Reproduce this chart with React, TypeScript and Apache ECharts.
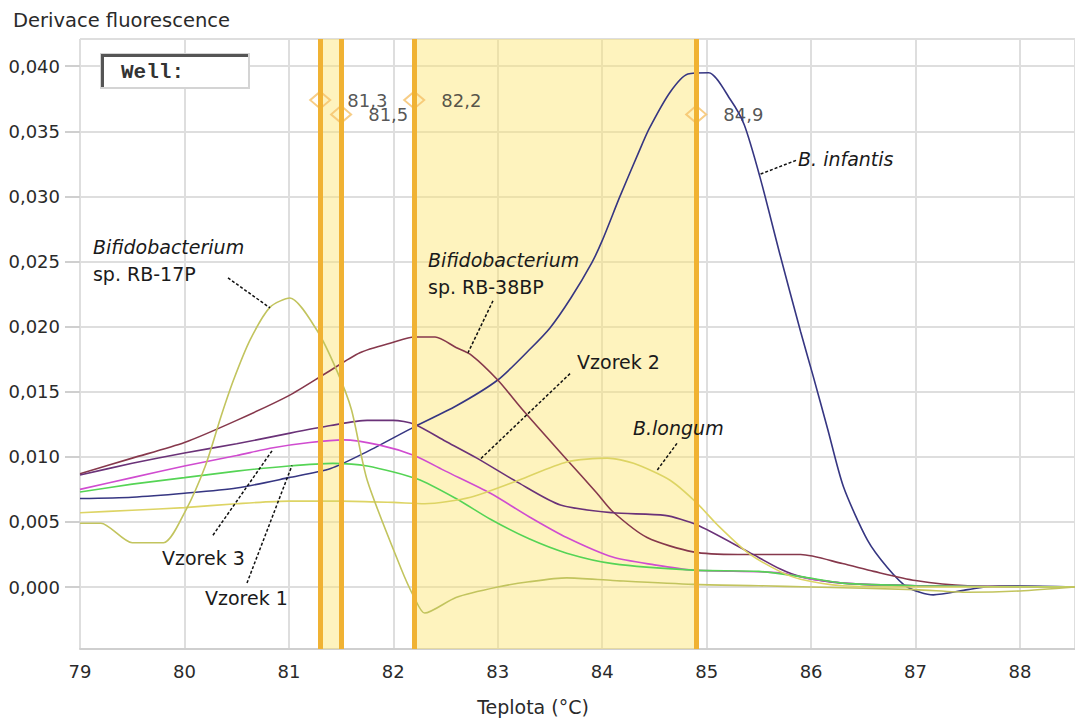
import React, { useEffect, useRef } from "react";
import * as echarts from "echarts";

// ---------- data ----------
const xTickMin = 79;
const xMaxValue = 88.527;
const yMinValue = -0.00476;
const yMaxValue = 0.04209;

const bInfantis: [number, number][] = [
  [79.0, 0.0068], [79.5, 0.0069], [80.0, 0.0072], [80.5, 0.0076], [81.0, 0.0084],
  [81.4, 0.0091], [81.75, 0.0104], [82.2, 0.0123], [82.6, 0.0139], [83.0, 0.0159],
  [83.3, 0.0182], [83.5, 0.0199], [83.7, 0.0222], [83.9, 0.0249], [84.0, 0.0266],
  [84.17, 0.0300], [84.35, 0.0334], [84.45, 0.0352], [84.65, 0.0380], [84.82, 0.0394],
  [85.02, 0.0395], [85.23, 0.0374], [85.36, 0.0355], [85.51, 0.0315], [85.7, 0.0256],
  [85.9, 0.0196], [86.02, 0.0162], [86.16, 0.0121], [86.31, 0.0077], [86.54, 0.0036],
  [86.73, 0.0015], [86.92, 0.0000], [87.17, -0.0006], [87.5, -0.0002], [87.8, 0.0001],
  [88.527, 0.0],
];

const rb38bp: [number, number][] = [
  [79.0, 0.0087], [79.5, 0.0099], [80.0, 0.0111], [80.5, 0.0128], [81.0, 0.0147],
  [81.35, 0.0164], [81.68, 0.0180], [82.0, 0.0188], [82.2, 0.0192], [82.4, 0.0192],
  [82.6, 0.0184], [82.75, 0.0178], [83.0, 0.0159], [83.24, 0.0136], [83.66, 0.0098],
  [83.95, 0.0072], [84.1, 0.0058], [84.43, 0.0038], [84.87, 0.0027], [85.3, 0.0025],
  [85.9, 0.0025], [86.3, 0.0018], [86.6, 0.0012], [87.0, 0.0005], [87.5, 0.0001],
  [88.527, 0.0],
];

const vzorek2: [number, number][] = [
  [79.0, 0.0086], [79.5, 0.0095], [80.0, 0.0103], [80.5, 0.0110], [81.0, 0.0118],
  [81.4, 0.0124], [81.75, 0.0128], [82.0, 0.0128], [82.2, 0.0125], [82.5, 0.0112],
  [82.8, 0.0099], [83.2, 0.0080], [83.6, 0.0063], [84.1, 0.0057], [84.6, 0.0055],
  [84.9, 0.0048], [85.4, 0.0027], [85.7, 0.0014], [85.9, 0.0008], [86.3, 0.0003],
  [87.0, 0.0001], [88.527, 0.0],
];

const vzorek3: [number, number][] = [
  [79.0, 0.0075], [79.5, 0.0084], [80.0, 0.0093], [80.5, 0.0101], [80.85, 0.0107],
  [81.2, 0.0111], [81.52, 0.0113], [81.87, 0.0109], [82.2, 0.0101], [82.5, 0.0089],
  [82.93, 0.0072], [83.3, 0.0054], [83.66, 0.0038], [84.1, 0.0023], [84.5, 0.0017],
  [84.87, 0.0013], [85.7, 0.0011], [86.0, 0.0006], [86.5, 0.0002], [87.0, 0.0001],
  [88.527, 0.0],
];

const vzorek1: [number, number][] = [
  [79.0, 0.0073], [79.5, 0.0079], [80.0, 0.0084], [80.5, 0.0089], [81.0, 0.0093],
  [81.42, 0.0095], [81.75, 0.0093], [82.23, 0.0083], [82.6, 0.0068], [82.93, 0.0052],
  [83.3, 0.0037], [83.66, 0.0026], [84.1, 0.0018], [84.87, 0.0013], [85.5, 0.0012],
  [85.9, 0.0008], [86.3, 0.0003], [87.0, 0.0001], [88.527, 0.0],
];

const bLongum: [number, number][] = [
  [79.0, 0.0057], [79.5, 0.0059], [80.0, 0.0061], [80.5, 0.0064], [81.0, 0.0066],
  [81.5, 0.0066], [82.0, 0.0065], [82.3, 0.0064], [82.74, 0.0069], [83.2, 0.0082],
  [83.66, 0.0096], [84.05, 0.0099], [84.3, 0.0095], [84.65, 0.0082], [84.9, 0.0065],
  [85.1, 0.0048], [85.4, 0.0026], [85.7, 0.0012], [85.9, 0.0006], [86.3, 0.0001],
  [87.0, 0.0], [88.527, 0.0],
];

const rb17p: [number, number][] = [
  [79.0, 0.0049], [79.2, 0.0049], [79.5, 0.0034], [79.8, 0.0034], [80.0, 0.0057],
  [80.2, 0.0093], [80.35, 0.0131], [80.47, 0.0159], [80.63, 0.0190], [80.82, 0.0215],
  [81.01, 0.0222], [81.27, 0.0197], [81.46, 0.0166], [81.6, 0.0136], [81.75, 0.0082],
  [82.07, 0.0015], [82.2, -0.0008], [82.3, -0.0020], [82.6, -0.0008], [83.0, 0.0000],
  [83.3, 0.0004], [83.66, 0.0007], [84.1, 0.0005], [84.87, 0.0002], [85.5, 0.0001],
  [86.0, 0.0], [87.0, -0.0002], [87.5, -0.0004], [88.0, -0.0003], [88.527, 0.0],
];

const peakTemps = [81.3, 81.5, 82.2, 84.9];
const peakMarkerY = [0.0374, 0.0363, 0.0374, 0.0363];
const shadedBands: [number, number][] = [[81.3, 81.5], [82.2, 84.9]];

// annotation texts: [text, italic, x, y] (data coordinates of text's left-middle)
const annotationTexts: [string, boolean, number, number][] = [
  ["Bifidobacterium", true, 79.124, 0.02611],
  ["sp. RB-17P", false, 79.124, 0.02404],
  ["Bifidobacterium", true, 82.332, 0.02511],
  ["sp. RB-38BP", false, 82.332, 0.02304],
  ["Vzorek 2", false, 83.759, 0.0173],
  ["B.longum", true, 84.295, 0.01225],
  ["B. infantis", true, 85.875, 0.03285],
  ["Vzorek 3", false, 79.785, 0.00222],
  ["Vzorek 1", false, 80.197, -0.00084],
];

// leader lines: [x1, y1, x2, y2] in data coordinates
const leaderLines: [number, number, number, number][] = [
  [80.417, 0.02374, 80.819, 0.02144],
  [82.954, 0.02198, 82.715, 0.01799],
  [83.692, 0.01639, 82.83, 0.0098],
  [84.716, 0.01103, 84.525, 0.00896],
  [85.856, 0.03277, 85.511, 0.0317],
  [80.273, 0.00398, 80.848, 0.01057],
  [80.599, 0.00031, 81.03, 0.00934],
];

const curveNames = ["B. infantis", "RB-38BP", "Vzorek 2", "Vzorek 3", "Vzorek 1", "B.longum", "RB-17P"];
const curveData = [bInfantis, rb38bp, vzorek2, vzorek3, vzorek1, bLongum, rb17p];
const curveColors = ["#363682", "#86384c", "#6a3278", "#d04cd0", "#55d455", "#ddd464", "#c2c45e"];

const xAxisTitle = "Teplota (°C)";
const yAxisTitle = "Derivace fluorescence";

const FONT = '"DejaVu Sans", Verdana, sans-serif';

export default function App() {
  const ref = useRef<HTMLDivElement>(null);

  useEffect(() => {
    document.body.style.margin = "0";
    if (!ref.current) return;
    const chart = echarts.init(ref.current, null, { renderer: "svg" });

    const fmtY = (v: number) => v.toFixed(3).replace(".", ",");

    const option: any = {
      animation: false,
      backgroundColor: "#ffffff",
      grid: { left: 80, right: 0, top: 39, bottom: 71, containLabel: false },
      xAxis: {
        type: "value",
        min: xTickMin,
        max: xMaxValue,
        interval: 1,
        axisLine: { show: true, onZero: false, lineStyle: { color: "#cfcfcf", width: 2 } },
        axisTick: { show: false },
        axisLabel: {
          fontFamily: FONT, fontSize: 18, color: "#2a2a2a", margin: 13,
          showMaxLabel: false,
          formatter: (v: number) => String(Math.round(v)),
        },
        splitLine: { show: true, lineStyle: { color: "#dedede", width: 2 } },
      },
      yAxis: {
        type: "value",
        min: yMinValue,
        max: yMaxValue,
        splitNumber: 9,
        minInterval: 0.005,
        maxInterval: 0.005,
        axisLine: { show: false },
        axisTick: { show: true, length: 15, lineStyle: { color: "#cfcfcf", width: 2 } },
        axisLabel: {
          fontFamily: FONT, fontSize: 18, color: "#2a2a2a", margin: 20,
          showMinLabel: false, showMaxLabel: false,
          formatter: (v: number) => fmtY(v),
        },
        splitLine: { show: true, lineStyle: { color: "#dedede", width: 2 } },
      },
      series: [
        {
          name: "peaks",
          type: "scatter",
          z: 1,
          data: peakTemps.map((t, i) => [t, peakMarkerY[i]]),
          symbol: "diamond",
          symbolSize: [20, 17],
          itemStyle: { color: "rgba(255,255,255,0)", borderColor: "#f5c068", borderWidth: 2 },
          label: {
            show: true, position: "right", distance: 16,
            fontFamily: FONT, fontSize: 18, color: "#2a2a2a",
            formatter: (p: any) => p.value[0].toFixed(1).replace(".", ","),
          },
          silent: true,
          markArea: {
            silent: true,
            itemStyle: { color: "rgba(252, 228, 110, 0.45)" },
            data: shadedBands.map(([a, b]) => [{ xAxis: a }, { xAxis: b }]),
          },
          markLine: {
            silent: true,
            symbol: "none",
            label: { show: false },
            lineStyle: { color: "#f0b233", width: 5, type: "solid" },
            data: peakTemps.map((t) => ({ xAxis: t })),
          },
        },
        ...curveData.map((d, i) => ({
          name: curveNames[i],
          type: "line",
          z: 3,
          data: d,
          showSymbol: false,
          smooth: 0.25,
          silent: true,
          lineStyle: { color: curveColors[i], width: 1.6 },
        })),
      ],
    };

    chart.setOption(option);

    const graphics: any[] = [];
    graphics.push({
      type: "text",
      x: 13,
      y: 20,
      style: { text: yAxisTitle, fontFamily: FONT, fontSize: 19.5, fill: "#2a2a2a", verticalAlign: "middle" },
    });
    graphics.push({
      type: "text",
      x: 533,
      y: 707,
      style: { text: xAxisTitle, fontFamily: FONT, fontSize: 19, fill: "#2a2a2a", align: "center", verticalAlign: "middle" },
    });
    // Well box
    graphics.push({
      type: "group",
      left: 100,
      top: 53,
      children: [
        { type: "rect", shape: { x: 0, y: 0, width: 148, height: 34 }, style: { fill: "#fff", stroke: "#d4d4d4", lineWidth: 2 } },
        { type: "polyline", shape: { points: [[1.5, 33], [1.5, 1.5], [147, 1.5]] }, style: { stroke: "#555", lineWidth: 3, fill: null } },
        {
          type: "text", x: 20, y: 18,
          style: { text: "Well:", fontFamily: '"Liberation Mono", "Courier New", monospace', fontSize: 21, fontWeight: "bold", fill: "#333", verticalAlign: "middle" },
        },
      ],
    });

    leaderLines.forEach(([x1, y1, x2, y2]) => {
      const p1 = chart.convertToPixel({ gridIndex: 0 }, [x1, y1]) as number[];
      const p2 = chart.convertToPixel({ gridIndex: 0 }, [x2, y2]) as number[];
      graphics.push({
        type: "line",
        z: 10,
        shape: { x1: p1[0], y1: p1[1], x2: p2[0], y2: p2[1] },
        style: { stroke: "#111", lineWidth: 1.5, lineDash: [3, 2] },
      });
    });

    annotationTexts.forEach(([text, italic, x, y]) => {
      const p = chart.convertToPixel({ gridIndex: 0 }, [x, y]) as number[];
      graphics.push({
        type: "text",
        z: 10,
        x: p[0],
        y: p[1],
        style: {
          text, fontFamily: FONT, fontSize: 19, fontStyle: italic ? "italic" : "normal",
          fill: "#1a1a1a", align: "left", verticalAlign: "middle",
        },
      });
    });

    chart.setOption({ graphic: graphics });

    return () => chart.dispose();
  }, []);

  return <div ref={ref} style={{ position: "absolute", left: 0, top: 0, width: 1075, height: 720 }} />;
}
